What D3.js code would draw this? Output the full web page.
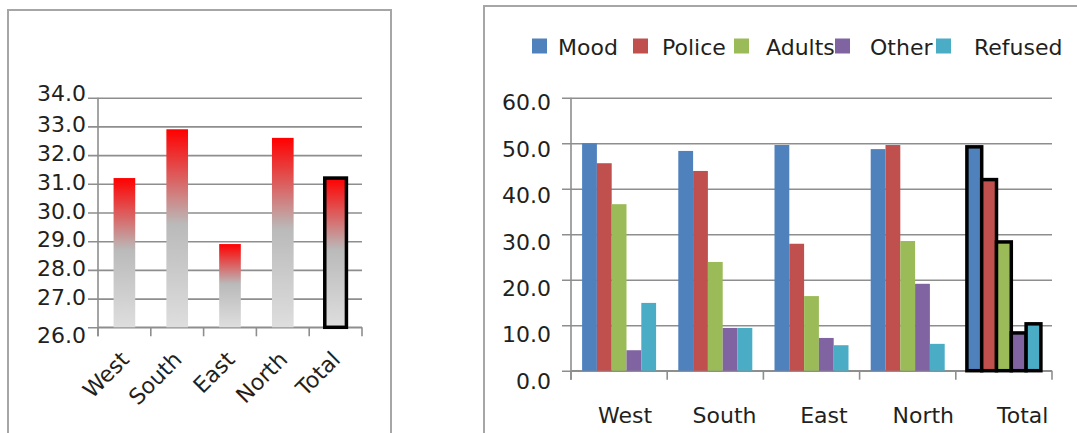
<!DOCTYPE html>
<html>
<head>
<meta charset="utf-8">
<script src="https://cdn.jsdelivr.net/npm/d3@7/dist/d3.min.js"></script>
<style>
  html, body { margin: 0; padding: 0; background: #fff; }
  svg { display: block; font-family: "DejaVu Sans", sans-serif; }
  .lbl { fill: #231f20; }
</style>
</head>
<body>
<svg id="chart" width="1077" height="433"></svg>
<script>
// Regions shared by both panels
const regions = ["West", "South", "East", "North", "Total"];

// Left panel: average score per region
const averageScores = [31.2, 32.9, 28.9, 32.6, 31.2];
const averageTicks = [26, 27, 28, 29, 30, 31, 32, 33, 34];

// Right panel: share of each reason per region (%)
const seriesNames = ["Mood", "Police", "Adults", "Other", "Refused"];
const mood    = [50.0, 48.3, 49.6, 48.7, 49.2];
const police  = [45.6, 43.9, 27.9, 49.6, 42.0];
const adults  = [36.6, 23.9, 16.4, 28.5, 28.3];
const other   = [4.5, 9.4, 7.2, 19.1, 8.3];
const refused = [14.9, 9.4, 5.6, 5.9, 10.3];
const reasonTicks = [0, 10, 20, 30, 40, 50, 60];
const seriesColors = ["#4f81bd", "#c0504d", "#9bbb59", "#8064a2", "#4bacc6"];

const highlighted = "Total";
const gridColor = "#8e8e8e";
const fontSize = 22;
const fmt = d3.format(".1f");

const svg = d3.select("#chart");

// gradient fill for the average bars: red at top fading to grey
const defs = svg.append("defs");
const grad = defs.append("linearGradient")
  .attr("id", "redGrey").attr("x1", 0).attr("y1", 0).attr("x2", 0).attr("y2", 1);
grad.append("stop").attr("offset", "0%").attr("stop-color", "#ff0000");
grad.append("stop").attr("offset", "48%").attr("stop-color", "#bababa");
grad.append("stop").attr("offset", "100%").attr("stop-color", "#dedede");

// panel frames
svg.append("rect").attr("x", 8).attr("y", 10).attr("width", 383).attr("height", 460)
  .attr("fill", "none").attr("stroke", "#a6a6a6").attr("stroke-width", 2);
svg.append("rect").attr("x", 484).attr("y", 6).attr("width", 700).attr("height", 460)
  .attr("fill", "none").attr("stroke", "#a6a6a6").attr("stroke-width", 2);

/* ---------------- Left panel ---------------- */
{
  const left = 98, right = 362, top = 97.7, bottom = 327.3, tick = 9;
  const x = d3.scaleBand().domain(regions).range([left, right])
    .paddingInner(0.59).paddingOuter(0.295);
  const y = d3.scaleLinear().domain([26, 34]).range([bottom, top]);
  const step = (right - left) / regions.length;

  const g = svg.append("g");

  // horizontal gridlines + tick labels
  const yAxis = d3.axisLeft(y).tickValues(averageTicks).tickFormat(fmt)
    .tickSize(-(right - left + 10)).tickPadding(2);
  const ya = g.append("g").attr("transform", `translate(${left - 10},0)`).call(yAxis);
  ya.select(".domain").remove();
  ya.selectAll(".tick line").attr("stroke", gridColor).attr("stroke-width", 1.6);
  ya.selectAll(".tick text")
    .attr("class", "lbl").attr("font-size", fontSize).attr("font-family", "DejaVu Sans")
    .attr("dy", d => d === 26 ? "0.7em" : d === 34 ? "0.13em" : "0.25em");

  // axis lines
  g.append("line").attr("x1", left).attr("x2", left).attr("y1", top).attr("y2", bottom + tick)
    .attr("stroke", gridColor).attr("stroke-width", 1.6);
  g.append("line").attr("x1", left).attr("x2", right).attr("y1", bottom).attr("y2", bottom)
    .attr("stroke", gridColor).attr("stroke-width", 1.6);
  g.selectAll(".xtick").data(d3.range(regions.length + 1)).join("line")
    .attr("x1", i => left + i * step).attr("x2", i => left + i * step)
    .attr("y1", bottom).attr("y2", bottom + tick)
    .attr("stroke", gridColor).attr("stroke-width", 1.6);

  // bars
  g.selectAll(".bar").data(regions.map((r, i) => ({ r, v: averageScores[i] }))).join("rect")
    .attr("x", d => x(d.r)).attr("width", x.bandwidth())
    .attr("y", d => y(d.v)).attr("height", d => y(26) - y(d.v))
    .attr("fill", "url(#redGrey)")
    .attr("stroke", d => d.r === highlighted ? "#000" : "none")
    .attr("stroke-width", 3.5);

  // rotated category labels
  g.selectAll(".xl").data(regions).join("text")
    .attr("class", "lbl").attr("font-size", fontSize).attr("text-anchor", "end")
    .attr("transform", d => `translate(${x(d) + x.bandwidth() / 2 + 6},361) rotate(-45)`)
    .text(d => d);
}

/* ---------------- Right panel ---------------- */
{
  const left = 571, right = 1052, top = 97.7, bottom = 370.7, tick = 9;
  const x0 = d3.scaleBand().domain(regions).range([left, right]).padding(0);
  const x1 = d3.scaleBand().domain(seriesNames).range([0, x0.bandwidth()])
    .paddingInner(0).paddingOuter(0.75);
  const y = d3.scaleLinear().domain([0, 60]).range([bottom, top]);
  // tick labels drift slightly lower than their gridlines
  const yLabel = d3.scaleLinear().domain([0, 60]).range([380.5, 102]);

  const g = svg.append("g");

  const yAxis = d3.axisLeft(y).tickValues(reasonTicks).tickFormat(fmt)
    .tickSize(-(right - left + tick)).tickPadding(11);
  const ya = g.append("g").attr("transform", `translate(${left - tick},0)`).call(yAxis);
  ya.select(".domain").remove();
  ya.selectAll(".tick line").attr("stroke", gridColor).attr("stroke-width", 1.6);
  ya.selectAll(".tick text")
    .attr("class", "lbl").attr("font-size", fontSize).attr("font-family", "DejaVu Sans")
    .attr("dy", d => (yLabel(d) - y(d)) + 7.8);

  g.append("line").attr("x1", left).attr("x2", left).attr("y1", top).attr("y2", bottom + tick)
    .attr("stroke", gridColor).attr("stroke-width", 1.6);
  g.append("line").attr("x1", left).attr("x2", right).attr("y1", bottom).attr("y2", bottom)
    .attr("stroke", gridColor).attr("stroke-width", 1.6);
  g.selectAll(".xtick").data([...regions.map(r => x0(r)), right]).join("line")
    .attr("x1", d => d).attr("x2", d => d)
    .attr("y1", bottom).attr("y2", bottom + tick)
    .attr("stroke", gridColor).attr("stroke-width", 1.6);

  const table = [mood, police, adults, other, refused];
  const groups = g.selectAll(".grp").data(regions).join("g")
    .attr("transform", d => `translate(${x0(d)},0)`);
  groups.selectAll("rect")
    .data((r, i) => seriesNames.map((s, k) => ({ r, s, k, v: table[k][i] })))
    .join("rect")
    .attr("x", d => x1(d.s)).attr("width", x1.bandwidth())
    .attr("y", d => y(d.v)).attr("height", d => y(0) - y(d.v))
    .attr("fill", d => seriesColors[d.k])
    .attr("stroke", d => d.r === highlighted ? "#000" : "none")
    .attr("stroke-width", 3.5);

  // category labels
  g.selectAll(".xl").data(regions).join("text")
    .attr("class", "lbl").attr("font-size", fontSize).attr("text-anchor", "middle")
    .attr("x", (d, i) => x0(d) + x0.bandwidth() / 2 + 6 + i * 3.2)
    .attr("y", 423)
    .text(d => d);

  // legend
  const legend = svg.append("g");
  const sq = d3.scaleLinear().domain([0, 1]).range([532, 633]);
  const tx = d3.scaleLinear().domain([0, 1]).range([558, 662]);
  legend.selectAll("rect").data(seriesNames).join("rect")
    .attr("x", (d, i) => sq(i)).attr("y", 38.5).attr("width", 15).attr("height", 15)
    .attr("fill", (d, i) => seriesColors[i]);
  legend.selectAll("text").data(seriesNames).join("text")
    .attr("class", "lbl").attr("font-size", fontSize)
    .attr("x", (d, i) => tx(i)).attr("y", 54.5)
    .text(d => d);
}
</script>
</body>
</html>
